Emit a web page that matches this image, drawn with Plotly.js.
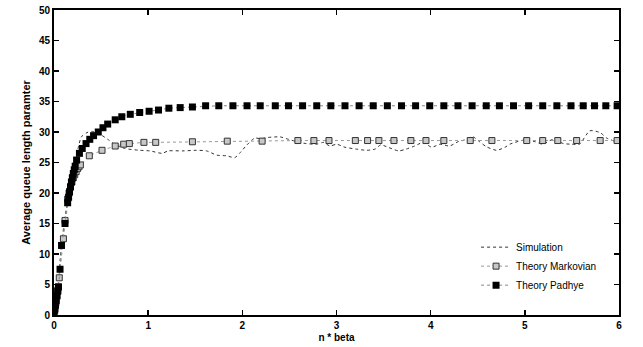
<!DOCTYPE html>
<html>
<head>
<meta charset="utf-8">
<script src="https://cdn.plot.ly/plotly-3.0.1.min.js"></script>
<style>html,body{margin:0;padding:0;background:#fff;}#chart{width:643px;height:347px;}</style>
</head>
<body>
<div id="chart"></div>
<script>
// Simulation
var simX = [0, 0.04, 0.074, 0.117, 0.17, 0.22, 0.26, 0.29, 0.35, 0.40, 0.47, 0.58, 0.65, 0.75, 0.91, 1.02, 1.15, 1.21, 1.37, 1.51, 1.62, 1.73, 1.83, 1.92, 1.97, 2.05, 2.13, 2.20, 2.27, 2.40, 2.49, 2.58, 2.68, 2.79, 2.86, 2.93, 3.0, 3.09, 3.21, 3.32, 3.41, 3.47, 3.53, 3.66, 3.74, 3.83, 3.92, 4.01, 4.10, 4.20, 4.29, 4.36, 4.45, 4.52, 4.59, 4.70, 4.79, 4.84, 5.0, 5.11, 5.19, 5.30, 5.41, 5.50, 5.58, 5.69, 5.80, 5.87, 5.97, 6.0];
var simY = [0, 4.1, 10.7, 16.1, 21.0, 25.1, 27.6, 29.2, 29.9, 30.1, 29.8, 28.7, 27.9, 27.3, 27.0, 26.9, 26.5, 26.9, 26.9, 27.0, 26.9, 26.2, 26.1, 25.8, 26.5, 27.9, 29.0, 28.9, 29.1, 29.2, 28.8, 28.4, 28.1, 28.0, 28.3, 27.7, 28.0, 27.5, 27.2, 27.0, 27.2, 27.9, 27.6, 26.9, 27.2, 27.7, 28.3, 27.5, 28.0, 27.7, 28.4, 28.7, 29.2, 28.4, 27.6, 27.0, 27.5, 28.0, 28.7, 28.4, 28.0, 28.8, 28.1, 28.0, 28.0, 30.2, 29.9, 29.0, 28.4, 28.3];

// Theory Markovian
var markX = [0, 0.01, 0.02, 0.03, 0.04, 0.046, 0.056, 0.1, 0.117, 0.145, 0.16, 0.175, 0.19, 0.205, 0.22, 0.235, 0.25, 0.265, 0.28, 0.375, 0.51, 0.65, 0.74, 0.80, 0.955, 1.08, 1.47, 1.84, 2.21, 2.59, 2.76, 2.92, 3.2, 3.33, 3.45, 3.61, 3.79, 3.95, 4.14, 4.42, 4.65, 5.02, 5.19, 5.35, 5.55, 5.80, 5.98];
var markY = [0, 1, 2, 3, 4, 4.6, 6.1, 12.5, 15.5, 19.0, 20.0, 21.0, 21.8, 22.5, 23.0, 23.5, 24.0, 24.3, 24.6, 26.1, 27.0, 27.7, 28.0, 28.1, 28.3, 28.3, 28.4, 28.5, 28.5, 28.6, 28.6, 28.6, 28.6, 28.6, 28.6, 28.6, 28.6, 28.6, 28.6, 28.6, 28.6, 28.6, 28.6, 28.6, 28.6, 28.6, 28.6];

// Theory Padhye
var padX = [0, 0.008, 0.016, 0.024, 0.032, 0.04, 0.048, 0.064, 0.08, 0.117, 0.145, 0.155, 0.165, 0.175, 0.185, 0.195, 0.205, 0.215, 0.225, 0.24, 0.27, 0.30, 0.34, 0.38, 0.42, 0.47, 0.52, 0.57, 0.65, 0.72, 0.81, 0.91, 1.01, 1.11, 1.22, 1.34, 1.47, 1.61, 1.75, 1.90, 2.05, 2.19, 2.35, 2.49, 2.64, 2.79, 2.94, 3.09, 3.24, 3.39, 3.54, 3.69, 3.84, 3.99, 4.14, 4.29, 4.44, 4.59, 4.73, 4.88, 5.04, 5.19, 5.34, 5.49, 5.62, 5.74, 5.86, 5.98];
var padY = [0, 0.8, 1.6, 2.4, 3.2, 3.9, 4.6, 7.5, 11.4, 15.0, 18.4, 19.3, 20.2, 21.0, 21.8, 22.5, 23.2, 23.8, 24.4, 25.4, 26.5, 27.3, 28.1, 28.8, 29.4, 30.0, 30.7, 31.3, 32.0, 32.5, 32.9, 33.2, 33.4, 33.6, 33.9, 34.0, 34.1, 34.3, 34.3, 34.3, 34.3, 34.3, 34.3, 34.3, 34.3, 34.3, 34.3, 34.3, 34.3, 34.3, 34.3, 34.3, 34.3, 34.3, 34.3, 34.3, 34.3, 34.3, 34.3, 34.3, 34.3, 34.3, 34.3, 34.3, 34.3, 34.3, 34.3, 34.3];

var seriesNames = ["Simulation", "Theory Markovian", "Theory Padhye"];
var xTicks = [0, 1, 2, 3, 4, 5, 6];
var yTicks = [0, 5, 10, 15, 20, 25, 30, 35, 40, 45, 50];

var FONT = "Liberation Sans, Arial, Helvetica, sans-serif";

var traces = [
  {x: simX, y: simY, name: seriesNames[0], type: "scatter", mode: "lines",
   line: {color: "#333", width: 1, dash: "dot", shape: "spline", smoothing: 0.6}},
  {x: markX, y: markY, name: seriesNames[1], type: "scatter", mode: "lines+markers",
   line: {color: "#999", width: 1, dash: "dot"},
   marker: {symbol: "square", size: 6, color: "#c8c8c8", line: {color: "#333", width: 1}}},
  {x: padX, y: padY, name: seriesNames[2], type: "scatter", mode: "lines+markers",
   line: {color: "#888", width: 1, dash: "dot"},
   marker: {symbol: "square", size: 7, color: "#000", line: {width: 0}}}
];

var axisCommon = {
  showline: true, linecolor: "#000", linewidth: 2, mirror: "ticks",
  ticks: "inside", ticklen: 5, tickwidth: 1.5, tickcolor: "#000",
  showgrid: false, zeroline: false,
  tickfont: {family: FONT, size: 10, color: "#000", weight: "bold"}
};

var layout = {
  width: 643, height: 347,
  margin: {l: 54, r: 24, t: 10, b: 32},
  paper_bgcolor: "#fff", plot_bgcolor: "#fff",
  showlegend: true,
  legend: {x: 0.97, xanchor: "right", y: 0.27, yanchor: "top", bgcolor: "rgba(0,0,0,0)",
           font: {family: FONT, size: 10, color: "#000"},
           tracegroupgap: 0},
  xaxis: Object.assign({}, axisCommon, {range: [0, 6], tickvals: xTicks, ticktext: xTicks.map(String),
    title: {text: "n * beta", standoff: 4, font: {family: FONT, size: 10, color: "#000", weight: "bold"}}}),
  yaxis: Object.assign({}, axisCommon, {range: [0, 50], tickvals: yTicks, ticktext: yTicks.map(String),
    title: {text: "Average queue length paramter", standoff: 6, font: {family: FONT, size: 11, color: "#000", weight: "bold"}}}),
  hovermode: false
};

Plotly.newPlot("chart", traces, layout, {staticPlot: true, displayModeBar: false});
</script>
</body>
</html>
